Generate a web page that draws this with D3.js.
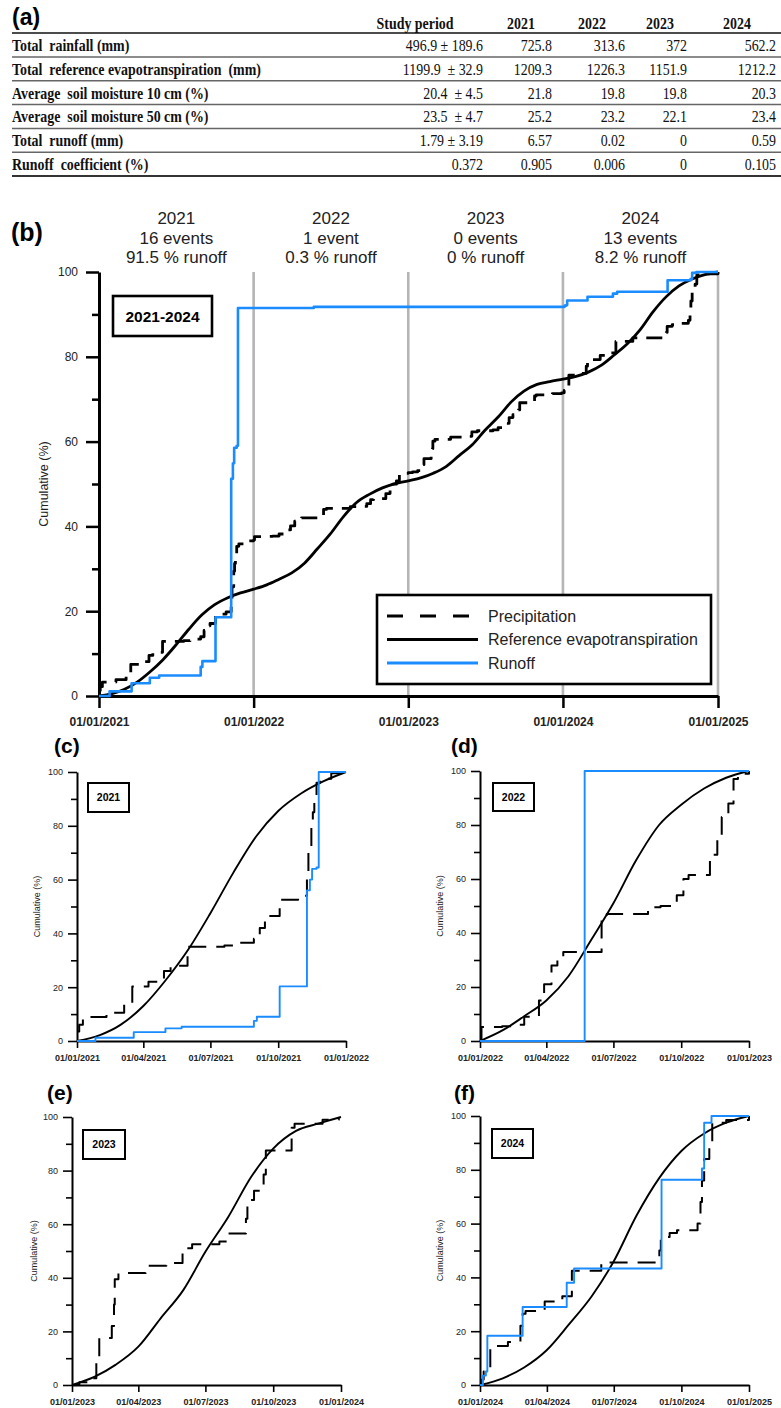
<!DOCTYPE html>
<html lang="en">
<head>
<meta charset="UTF-8">
<title>Cumulative rainfall, evapotranspiration and runoff</title>
<script src="https://d3js.org/d3.v7.min.js"></script>
<style>
    body { margin: 0; background: #fff; }
    svg { display: block; font-family: Arial, "Liberation Sans", sans-serif; }
    .tbl { font-family: "Times New Roman", "Liberation Serif", serif; font-size: 16px; fill: #111; white-space: pre; }
    .tbl.b { font-weight: bold; }
    .axis text { fill: #222; }
</style>
</head>
<body>
<svg width="781" height="1408"></svg>
<script>
    // ---- table (a) ----
    const tableHeader = ["Study period", "2021", "2022", "2023", "2024"];
    const rowLabels = [
        "Total  rainfall (mm)",
        "Total  reference evapotranspiration  (mm)",
        "Average  soil moisture 10 cm (%)",
        "Average  soil moisture 50 cm (%)",
        "Total  runoff (mm)",
        "Runoff  coefficient (%)"
    ];
    const studyPeriod = ["496.9 ± 189.6", "1199.9  ± 32.9", "20.4  ± 4.5", "23.5  ± 4.7", "1.79 ± 3.19", "0.372"];
    const totalRainfall = [725.8, 313.6, 372, 562.2];
    const totalET = [1209.3, 1226.3, 1151.9, 1212.2];
    const soil10 = [21.8, 19.8, 19.8, 20.3];
    const soil50 = [25.2, 23.2, 22.1, 23.4];
    const totalRunoff = [6.57, 0.02, 0, 0.59];
    const runoffCoef = [0.905, 0.006, 0, 0.105];

    // ---- cumulative series ----
    const years = [2021, 2022, 2023, 2024];
    const yearEvents = ["16 events", "1 event", "0 events", "13 events"];
    const yearRunoffShare = ["91.5 % runoff", "0.3 % runoff", "0 % runoff", "8.2 % runoff"];

    // reference evapotranspiration, cumulative % on the 1st of each month (Jan 1 .. next Jan 1)
    const et2021 = [0, 2.2, 6, 13, 22.5, 34, 47.5, 62.5, 76, 85.5, 92, 96.5, 100];
    const et2022 = [0, 4, 9, 15, 24, 37.5, 51, 67, 80, 87.5, 93.5, 97.5, 100];
    const et2023 = [0, 3.1, 7.5, 14.3, 24.8, 35.4, 49.7, 62.7, 77.6, 88.2, 94.8, 97.5, 100];
    const et2024 = [0, 2.5, 6.5, 13, 22.5, 33, 46, 63, 77, 87, 93.5, 97.5, 100];

    // precipitation and runoff steps, [day of year, cumulative %]
    const precip2021 = [[0,3.5],[3,6],[8,8.9],[40,10.5],[64,13.8],[75,20.3],[97,22],[118,26],[127,28],[150,35],[200,35.5],[215,36.5],[240,38],[248,42],[255,45],[262,46.5],[275,52.5],[300,54],[312,62],[314,70],[318,80],[320,85],[322,90],[325,96],[330,97.5],[345,99.5],[365,100]];
    const runoff2021 = [[0,0],[25,1.2],[77,3.3],[120,4.7],[142,5.3],[240,7.5],[244,9],[275,20.3],[312,56],[316,60],[319,64],[325,64.5],[328,100],[365,100]];

    const precip2022 = [[0,0],[2,5.2],[30,5.5],[45,6],[60,9],[80,15],[87,21],[97,28],[105,31],[113,33],[165,45.5],[172,47],[228,49.5],[245,50],[267,54],[276,60],[283,61.5],[312,69],[322,74.5],[328,83],[337,88],[344,97],[350,99],[365,100]];
    const runoff2022 = [[0,0],[142,100],[365,100]];

    const precip2023 = [[0,0],[10,1],[22,2.5],[33,10],[37,17.5],[54,22],[57,30],[58,39.5],[63,41.8],[100,44.5],[128,45.5],[150,51],[163,52.5],[200,53.5],[212,56.5],[236,62],[238,69],[247,72.5],[255,74],[260,78.5],[263,87.5],[298,96],[302,97.5],[340,99],[362,100]];
    const runoff2023 = null; // no runoff events

    const precip2024 = [[0,0],[3,2],[5,5],[14,14.5],[38,16],[55,22],[58,26.5],[62,27.5],[88,31],[112,33],[125,42.5],[165,45.5],[240,46],[244,50],[246,55],[258,56.5],[268,57.5],[296,60],[300,68],[302,76],[305,84],[312,90],[316,97.5],[335,98.5],[366,100]];
    const runoff2024 = [[0,0],[4,3.5],[8,5],[10,18.3],[58,29],[118,38],[128,43.3],[247,76.3],[302,80.5],[305,97.5],[315,100],[366,100]];

    const precipByYear = [precip2021, precip2022, precip2023, precip2024];
    const etByYear = [et2021, et2022, et2023, et2024];
    const runoffByYear = [runoff2021, runoff2022, runoff2023, runoff2024];

    const BLUE = "#1a8cff";
    const svg = d3.select("svg");
    svg.append("rect").attr("width", 781).attr("height", 1408).attr("fill", "#fff");

    // ---------- table ----------
    const tableRows = rowLabels.map((lab, i) => [lab, studyPeriod[i]].concat(
        [totalRainfall, totalET, soil10, soil50, totalRunoff, runoffCoef][i].map(String)));
    const colRight = [483, 552, 625, 687, 776];
    const colCenter = [415, 521, 592, 660, 737];
    const tg = svg.append("g");
    const sx = 0.87;

    tg.append("text").attr("x", 12).attr("y", 25).attr("font-size", 23).attr("font-weight", "bold").text("(a)");
    tableHeader.forEach((h, j) => {
        tg.append("text").attr("class", "tbl b").attr("text-anchor", "middle")
            .attr("transform", `translate(${colCenter[j]},29) scale(${sx},1)`).text(h);
    });
    tg.append("line").attr("x1", 12).attr("x2", 781).attr("y1", 33).attr("y2", 33).attr("stroke", "#111").attr("stroke-width", 1.6);
    tableRows.forEach((r, i) => {
        const yb = 51 + i * 23.8;
        tg.append("text").attr("class", "tbl b").attr("transform", `translate(12,${yb}) scale(${sx},1)`).text(r[0]);
        r.slice(1).forEach((v, j) => {
            tg.append("text").attr("class", "tbl").attr("text-anchor", "end")
                .attr("transform", `translate(${colRight[j]},${yb}) scale(${sx},1)`).text(v);
        });
        const ly = 57 + i * 23.8;
        tg.append("line").attr("x1", 12).attr("x2", 781).attr("y1", ly).attr("y2", ly)
            .attr("stroke", i === tableRows.length - 1 ? "#333" : "#666").attr("stroke-width", i === tableRows.length - 1 ? 2 : 1.5);
    });

    // ---------- helpers ----------
    const fmt = d3.timeFormat("%d/%m/%Y");
    const toDates = (arr, yr) => arr.map(([d, v]) => [d3.timeDay.offset(new Date(yr, 0, 1), d), v]);
    const monthly = (arr, yr) => arr.map((v, m) => [new Date(yr, m, 1), v]);

    // whole-period curve from yearly curves weighted by the yearly totals of table (a)
    function combine(perYear, totals) {
        const grand = d3.sum(totals);
        let before = 0;
        const out = [];
        perYear.forEach((pts, i) => {
            if (pts && totals[i] > 0) {
                pts.forEach(([dt, v]) => out.push([dt, (before + v / 100 * totals[i]) / grand * 100]));
            }
            before += totals[i];
        });
        return out;
    }

    function drawPanel(p) {
        const g = svg.append("g");
        const x = d3.scaleTime().domain([p.start, p.end]).range([p.x0, p.x1]);
        const y = d3.scaleLinear().domain([0, 100]).range([p.yBot, p.yTop]);

        if (p.grid) {
            g.selectAll(".grid").data(p.grid).join("line")
                .attr("x1", d => x(d)).attr("x2", d => x(d))
                .attr("y1", y(100)).attr("y2", y(0))
                .attr("stroke", "#b5b5b5").attr("stroke-width", 2.6);
        }

        const yMaj = d3.axisLeft(y).tickValues([0, 20, 40, 60, 80, 100]).tickSize(p.tickMajor)
            .tickSizeOuter(0).tickPadding(p.padY).tickFormat(d3.format("d"));
        const yMin = d3.axisLeft(y).tickValues([10, 30, 50, 70, 90]).tickSize(p.tickMinor).tickFormat("");
        const xAx = d3.axisBottom(x).tickValues(p.xTicks).tickSize(p.tickX).tickSizeOuter(0)
            .tickPadding(p.padX).tickFormat(fmt);

        const ga = g.append("g").attr("class", "axis").attr("transform", `translate(${p.x0},0)`).call(yMaj);
        ga.select(".domain").attr("stroke-width", p.axisW);
        ga.selectAll(".tick line").attr("stroke-width", p.tickW);
        ga.selectAll("text").attr("font-size", p.fontY);
        const gm = g.append("g").attr("transform", `translate(${p.x0},0)`).call(yMin);
        gm.select(".domain").remove();
        gm.selectAll(".tick line").attr("stroke-width", p.tickW);

        const gx = g.append("g").attr("class", "axis").attr("transform", `translate(0,${p.yBot})`).call(xAx);
        gx.select(".domain").attr("stroke-width", p.axisW);
        gx.selectAll(".tick line").attr("stroke-width", p.tickW);
        gx.selectAll("text").attr("font-size", p.fontX).attr("font-weight", "bold");
        g.selectAll(".axis .domain, .axis .tick line").attr("stroke", "#000");

        p.series.forEach(s => {
            if (!s.data) return;
            const line = d3.line().x(d => x(d[0])).y(d => y(d[1])).curve(s.curve);
            g.append("path").datum(s.data).attr("d", line)
                .attr("fill", "none").attr("stroke", s.color).attr("stroke-width", s.width)
                .attr("stroke-dasharray", s.dash || null).attr("stroke-linejoin", "round");
        });

        g.append("text").attr("transform", `translate(${p.ylabX},${(p.yTop + p.yBot) / 2}) rotate(-90)`)
            .attr("text-anchor", "middle").attr("font-size", p.fontLab).attr("fill", "#222").text("Cumulative (%)");

        g.append("text").attr("x", p.tag[0]).attr("y", p.tag[1]).attr("font-size", p.tagSize)
            .attr("font-weight", "bold").text(p.tagText);

        const b = p.box;
        g.append("rect").attr("x", b[0]).attr("y", b[1]).attr("width", b[2]).attr("height", b[3])
            .attr("fill", "#fff").attr("stroke", "#000").attr("stroke-width", p.boxW);
        g.append("text").attr("x", b[0] + b[2] / 2).attr("y", b[1] + b[3] / 2).attr("dy", "0.36em")
            .attr("text-anchor", "middle").attr("font-size", p.boxFont).attr("font-weight", "bold").text(p.boxText);
        return { g, x, y };
    }

    // ---------- panel (b) ----------
    const bStart = new Date(2021, 0, 1), bEnd = new Date(2025, 0, 1);
    const yearTicks = [2021, 2022, 2023, 2024, 2025].map(yr => new Date(yr, 0, 1));
    const pb = drawPanel({
        x0: 99, x1: 718, yTop: 272, yBot: 696, start: bStart, end: bEnd,
        xTicks: yearTicks, grid: yearTicks.slice(1),
        tickMajor: 13, tickMinor: 7, tickX: 12, padY: 8, padX: 9,
        axisW: 3, tickW: 2.5, fontY: 12, fontX: 12, fontLab: 12.5, ylabX: 48,
        tag: [11, 241], tagSize: 25, tagText: "(b)",
        box: [113, 296, 99, 40], boxW: 2.6, boxFont: 15.5, boxText: "2021-2024",
        series: [
            { data: combine(precipByYear.map((a, i) => toDates(a, years[i])), totalRainfall), curve: d3.curveStepAfter, color: "#000", width: 2.8, dash: "16,9" },
            { data: combine(etByYear.map((a, i) => monthly(a, years[i])), totalET), curve: d3.curveMonotoneX, color: "#000", width: 2.8 },
            { data: combine(runoffByYear.map((a, i) => a && toDates(a, years[i])), totalRunoff), curve: d3.curveStepAfter, color: BLUE, width: 2.6 }
        ]
    });

    // year annotations above panel (b)
    years.forEach((yr, i) => {
        const cx = (pb.x(new Date(yr, 0, 1)) + pb.x(new Date(yr + 1, 0, 1))) / 2;
        [String(yr), yearEvents[i], yearRunoffShare[i]].forEach((t, k) => {
            svg.append("text").attr("x", cx).attr("y", 224 + k * 19.5).attr("text-anchor", "middle")
                .attr("font-size", 17).attr("fill", "#222").text(t);
        });
    });

    // legend
    const lg = svg.append("g");
    lg.append("rect").attr("x", 377).attr("y", 595).attr("width", 334).attr("height", 89)
        .attr("fill", "#fff").attr("stroke", "#000").attr("stroke-width", 2.6);
    const legendItems = [
        { name: "Precipitation", color: "#000", dash: "16,17" },
        { name: "Reference evapotranspiration", color: "#000" },
        { name: "Runoff", color: BLUE }
    ];
    legendItems.forEach((it, i) => {
        const ly = 616 + i * 23.5;
        lg.append("line").attr("x1", 387).attr("x2", 478).attr("y1", ly).attr("y2", ly)
            .attr("stroke", it.color).attr("stroke-width", 3).attr("stroke-dasharray", it.dash || null);
        lg.append("text").attr("x", 488).attr("y", ly).attr("dy", "0.36em").attr("font-size", 16)
            .attr("fill", "#222").text(it.name);
    });

    // ---------- yearly panels (c)-(f) ----------
    const smallPanels = [
        { x0: 77, x1: 346, yTop: 772, yBot: 1041, tag: [54, 753], box: [88, 783, 41, 29], ylabX: 40 },
        { x0: 480, x1: 749, yTop: 771, yBot: 1041, tag: [451, 753], box: [493, 783, 41, 28], ylabX: 443 },
        { x0: 72, x1: 341, yTop: 1117, yBot: 1385, tag: [47, 1100], box: [83, 1130, 42, 29], ylabX: 37 },
        { x0: 480, x1: 749, yTop: 1116, yBot: 1385, tag: [454, 1100], box: [492, 1129, 41, 29], ylabX: 443 }
    ];
    const tags = ["(c)", "(d)", "(e)", "(f)"];
    years.forEach((yr, i) => {
        const sp = smallPanels[i];
        const start = new Date(yr, 0, 1);
        const quarterTicks = [0, 3, 6, 9, 12].map(m => new Date(yr, m, 1));
        drawPanel(Object.assign({}, sp, {
            start, end: new Date(yr + 1, 0, 1), xTicks: quarterTicks,
            tickMajor: 9, tickMinor: 6, tickX: 7, padY: 5, padX: 7,
            axisW: 2, tickW: 1.6, fontY: 9, fontX: 9, fontLab: 9,
            tagSize: 21, tagText: tags[i],
            boxW: 2, boxFont: 10.5, boxText: String(yr),
            series: [
                { data: toDates(precipByYear[i], yr), curve: d3.curveStepAfter, color: "#000", width: 2, dash: "18,10" },
                { data: monthly(etByYear[i], yr), curve: d3.curveMonotoneX, color: "#000", width: 1.9 },
                { data: runoffByYear[i] ? toDates(runoffByYear[i], yr) : null, curve: d3.curveStepAfter, color: BLUE, width: 1.9 }
            ]
        }));
    });
</script>
</body>
</html>
